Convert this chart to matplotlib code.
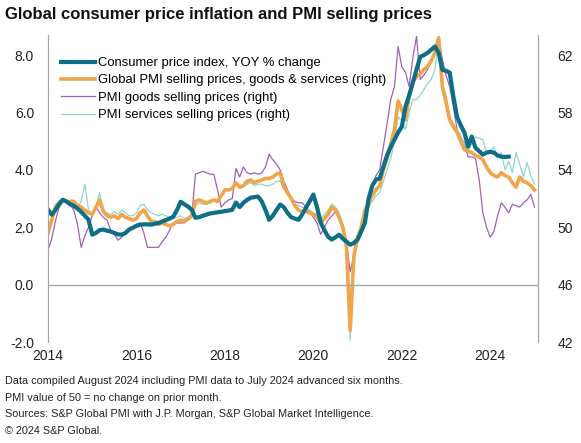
import numpy as np
import pandas as pd
import matplotlib
matplotlib.use('Agg')
import matplotlib.pyplot as plt

plt.rcParams['font.family'] = ['Liberation Sans', 'DejaVu Sans']

# Consumer price index, YOY % change (left axis), Jan 2014 - Jun 2024
cpi = [
    2.61, 2.44, 2.60, 2.80, 2.96, 2.90, 2.80, 2.75, 2.65, 2.54, 2.40, 2.26,
    1.74, 1.80, 1.90, 1.92, 1.88, 1.85, 1.80, 1.75, 1.74, 1.80, 1.92, 1.98,
    2.05, 2.09, 2.10, 2.10, 2.09, 2.12, 2.15, 2.20, 2.25, 2.30, 2.37, 2.60,
    2.89, 2.80, 2.72, 2.61, 2.33, 2.35, 2.40, 2.44, 2.48, 2.50, 2.52, 2.54,
    2.56, 2.58, 2.61, 2.86, 2.70, 2.85, 2.95, 3.03, 3.05, 3.07, 2.90, 2.60,
    2.26, 2.40, 2.60, 2.79, 2.70, 2.50, 2.35, 2.30, 2.26, 2.45, 2.68, 2.90,
    3.14, 2.70, 2.16, 1.90, 1.67, 1.57, 1.65, 1.74, 1.60, 1.50, 1.39, 1.45,
    1.57, 1.85, 2.16, 3.00, 3.45, 3.66, 3.70, 4.11, 4.50, 4.80, 5.05, 5.30,
    5.50, 6.20, 6.60, 7.04, 7.50, 7.94, 8.00, 8.08, 8.19, 8.30, 8.08, 7.49,
    7.45, 7.39, 6.55, 5.85, 5.55, 5.30, 4.81, 5.16, 4.77, 4.65, 4.53, 4.60,
    4.63, 4.60, 4.50, 4.46, 4.45, 4.46,
]

# PMI selling prices (right axis, index), advanced six months: Jan 2014 - Jan 2025
pmi_all = [
    49.6, 50.5, 51.4, 51.7, 51.9, 51.8, 51.8, 51.8, 51.5, 51.4, 51.2, 51.0,
    50.9, 51.4, 51.9, 51.1, 50.8, 50.7, 50.8, 50.6, 50.9, 50.7, 50.6, 50.5,
    50.6, 51.0, 51.2, 50.8, 50.4, 50.4, 50.2, 50.3, 50.2, 50.1, 50.2, 50.4,
    50.5, 50.4, 50.6, 50.8, 51.8, 51.9, 51.8, 51.7, 51.8, 51.9, 51.8, 52.2,
    52.6, 52.6, 52.7, 53.1, 52.8, 52.9, 53.2, 53.3, 53.1, 53.2, 53.3, 53.4,
    53.4, 53.5, 53.7, 53.8, 52.8, 52.4, 52.0, 51.5, 51.2, 51.1, 51.1, 51.0,
    50.9, 50.7, 50.3, 50.6, 50.9, 51.4, 51.2, 50.7, 50.0, 48.6, 42.8, 48.0,
    49.3, 50.0, 51.2, 51.7, 52.2, 52.6, 52.9, 54.0, 54.8, 55.8, 56.8, 58.8,
    58.2, 57.5, 59.1, 60.1, 60.5, 60.7, 61.0, 61.2, 61.6, 62.2, 63.2, 59.8,
    58.7, 57.5, 57.0, 56.6, 56.0, 55.4, 55.3, 55.2, 55.0, 54.9, 54.7, 54.2,
    53.8, 53.6, 53.5, 53.8, 53.6, 53.5, 53.1, 52.8, 53.5, 53.2, 53.1, 52.9,
    52.6,
]

pmi_goods = [
    48.4, 49.2, 50.4, 51.4, 51.8, 51.7, 51.6, 51.2, 50.2, 48.6, 49.4, 50.0,
    50.8, 51.4, 51.0, 50.7, 50.5, 49.8, 49.5, 49.1, 49.3, 49.6, 49.8, 50.0,
    50.2, 50.3, 49.6, 48.6, 48.6, 48.6, 48.6, 49.0, 49.3, 49.8, 50.3, 50.3,
    50.3, 50.3, 50.5, 50.7, 53.7, 53.8, 53.9, 53.8, 53.7, 53.7, 52.6, 51.4,
    51.7, 51.9, 52.0, 54.1, 53.5, 54.2, 53.8, 53.7, 53.8, 53.7, 53.8, 54.2,
    55.1, 54.7, 54.4, 54.0, 53.2, 52.6, 52.0, 51.8, 51.7, 51.7, 51.4, 51.1,
    50.7, 50.3, 49.5, 50.0, 50.5, 50.8, 51.1, 50.6, 50.0, 48.9, 46.9, 48.0,
    48.9, 50.3, 50.8, 51.4, 52.6, 53.6, 54.0, 55.6, 57.2, 58.9, 59.8, 62.6,
    61.2, 60.8, 59.8, 61.8, 63.3, 60.3, 60.6, 61.0, 61.6, 62.2, 63.3, 61.7,
    60.6, 59.8, 58.4, 56.8, 56.2, 55.9, 54.9, 54.9, 54.8, 53.3, 51.0, 50.0,
    49.3, 49.7, 50.8, 51.7, 51.4, 51.0, 51.6, 51.5, 51.4, 51.7, 51.9, 52.3,
    51.4,
]

pmi_services = [
    49.8, 50.6, 51.6, 51.8, 51.9, 51.8, 51.7, 51.6, 51.4, 51.8, 53.0, 51.2,
    50.9, 51.4, 52.4, 51.2, 51.0, 50.9, 51.1, 50.9, 51.2, 51.0, 50.8, 50.8,
    51.0, 51.5, 51.6, 51.2, 51.0, 50.9, 50.8, 50.9, 50.8, 50.7, 50.6, 50.7,
    50.8, 50.6, 50.7, 50.8, 51.5, 51.7, 51.6, 51.6, 51.7, 51.9, 51.8, 52.3,
    52.7, 52.6, 52.7, 53.0, 52.7, 52.8, 53.0, 53.1, 52.9, 53.0, 53.0, 52.9,
    52.9, 53.0, 53.2, 53.2, 52.7, 52.4, 52.0, 51.6, 51.5, 51.4, 51.3, 51.2,
    51.0, 50.9, 50.6, 50.9, 51.2, 51.6, 51.4, 51.0, 50.2, 49.0, 42.1, 47.8,
    49.2, 49.9, 51.0, 51.4, 51.8, 52.2, 52.4, 53.2, 54.0, 54.8, 56.0, 57.7,
    57.4, 56.8, 58.0, 58.9, 58.9, 59.2, 59.6, 60.0, 60.3, 61.0, 63.3, 60.0,
    59.2, 57.7, 57.2, 56.8, 56.4, 55.8, 55.4, 55.8, 56.3, 56.2, 56.1, 55.2,
    55.3, 55.6, 54.9, 55.2, 54.0, 54.6, 53.8, 55.2, 54.4, 53.5, 54.5, 53.6,
    53.0,
]

year_ticks = [2014, 2016, 2018, 2020, 2022, 2024]
footer = [
    'Data compiled August 2024 including PMI data to July 2024 advanced six months.',
    'PMI value of 50 = no change on prior month.',
    'Sources: S&P Global PMI with J.P. Morgan, S&P Global Market Intelligence.',
    '\u00a9 2024 S&P Global.',
]


def decimal_years(n):
    return 2014 + np.arange(n) / 12.0


W, H = 581, 443
fig = plt.figure(figsize=(W / 100, H / 100), dpi=100)
ax = fig.add_axes([48 / W, 1 - 342 / H, 490 / W, 307 / H])
ax2 = ax.twinx()

grey = '#a6a6a6'
c_cpi = '#0d6e86'
c_all = '#f0a54a'
c_goods = '#a060b8'
c_serv = '#8dd6cb'

l3, = ax2.plot(decimal_years(len(pmi_goods)), pmi_goods, color=c_goods, lw=0.9,
               label='PMI goods selling prices (right)')
l4, = ax2.plot(decimal_years(len(pmi_services)), pmi_services, color=c_serv, lw=0.9,
               label='PMI services selling prices (right)')
l2, = ax2.plot(decimal_years(len(pmi_all)), pmi_all, color=c_all, lw=2.6,
               label='Global PMI selling prices, goods & services (right)')
l1, = ax.plot(decimal_years(len(cpi)), cpi, color=c_cpi, lw=3.0,
              label='Consumer price index, YOY % change')

ax.set_zorder(ax2.get_zorder() + 1)
ax.patch.set_visible(False)

ax.axhline(0, color=grey, lw=1.0, zorder=0)
ax.set_xlim(2014, 2025.08)
ax.set_ylim(-2, 8.7)
ax2.set_ylim(42, 63.4)

ax.set_yticks([-2, 0, 2, 4, 6, 8])
ax.set_yticklabels([f'{v:.1f}' for v in [-2, 0, 2, 4, 6, 8]])
ax2.set_yticks([42, 46, 50, 54, 58, 62])
ax.set_xticks(year_ticks)
ax.set_xticklabels([str(y) for y in year_ticks])

for a in (ax, ax2):
    for s in ('top', 'bottom'):
        a.spines[s].set_visible(False)
    a.spines['left'].set_color(grey)
    a.spines['right'].set_color(grey)
    a.tick_params(length=0, labelsize=10, colors='#222222')
ax.tick_params(axis='y', pad=10)
ax2.tick_params(axis='y', pad=14)
ax.tick_params(axis='x', pad=5)

ax.legend(handles=[l1, l2, l3, l4], loc='upper left', bbox_to_anchor=(61 / W, 1 - 57 / H),
          bbox_transform=fig.transFigure, frameon=False, fontsize=9.4,
          handlelength=2.6, handletextpad=0.2, labelspacing=0.4, borderpad=0, borderaxespad=0)

fig.text(5 / W, 1 - 15 / H, 'Global consumer price inflation and PMI selling prices',
         fontsize=12, fontweight='bold', va='center', ha='left', color='#111111')
for i, line in enumerate(footer):
    fig.text(5 / W, 1 - (381 + i * 16.7) / H, line, fontsize=7.8, va='center', ha='left',
             color='#222222')

fig.savefig('out.png', dpi=100)
